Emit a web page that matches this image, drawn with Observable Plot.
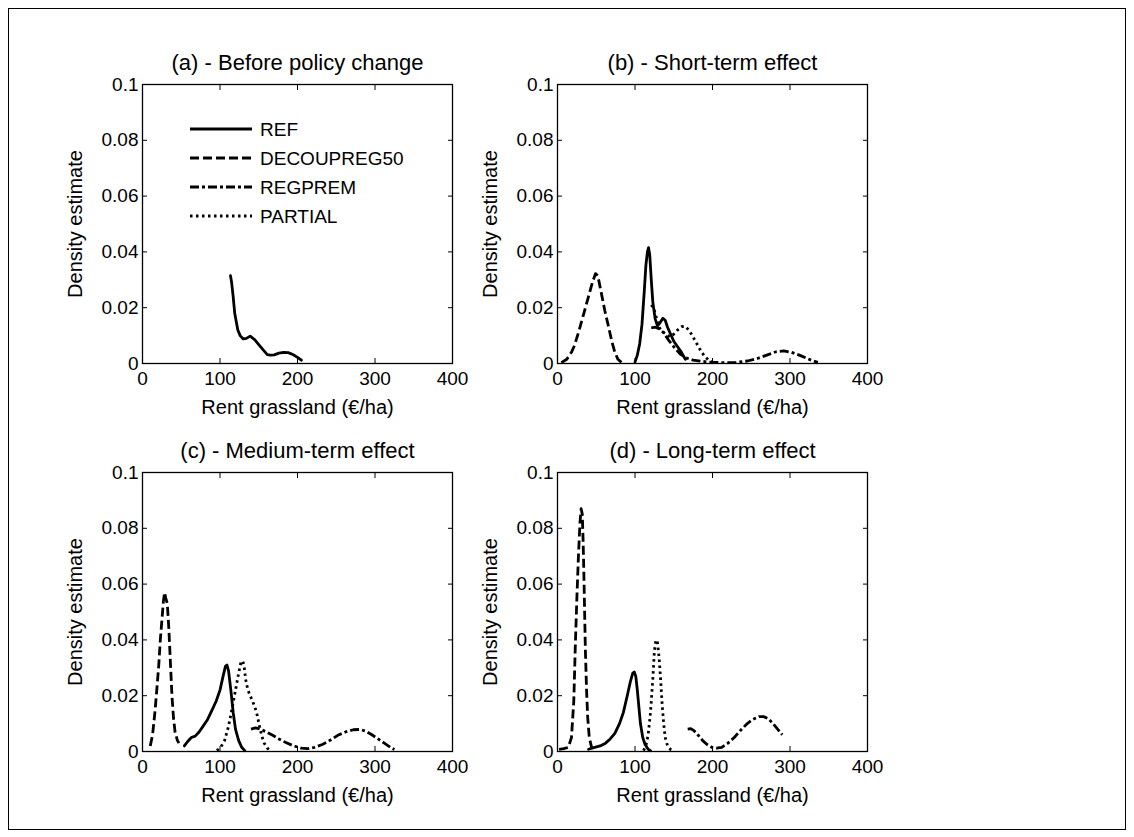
<!DOCTYPE html>
<html>
<head>
<meta charset="utf-8">
<script src="https://cdn.jsdelivr.net/npm/d3@7"></script>
<script src="https://cdn.jsdelivr.net/npm/@observablehq/plot@0.6"></script>
<style>
  html, body { margin: 0; padding: 0; background: #fff; }
  #fig { position: relative; width: 1134px; height: 837px; background: #fff; font-family: "Liberation Sans", Arial, sans-serif; }
  #border { position: absolute; left: 8px; top: 8px; width: 1116px; height: 820px; border: 1px solid #000; }
  .panel { position: absolute; }
  #legend { position: absolute; }
</style>
</head>
<body>
<div id="fig"><div id="border"></div></div>
<script>
// ---------- labels & ticks ----------
const seriesNames = ["REF", "DECOUPREG50", "REGPREM", "PARTIAL"];
const panelTitles = ["(a) - Before policy change", "(b) - Short-term effect", "(c) - Medium-term effect", "(d) - Long-term effect"];
const xLabel = "Rent grassland (€/ha)";
const yLabel = "Density estimate";
const xTicks = [0, 100, 200, 300, 400];
const yTicks = [0, 0.02, 0.04, 0.06, 0.08, 0.1];

// ---------- (a) before policy change ----------
const aREF = [[113.5,0.0315],[115,0.029],[117,0.024],[119,0.018],[121,0.015],[123,0.012],[126,0.0100],[130,0.0088],[134,0.0090],[139,0.0098],[145,0.0085],[150,0.0068],[156,0.0048],[161,0.0032],[165,0.0030],[170,0.0031],[176,0.0037],[182,0.0040],[188,0.0039],[194,0.0032],[200,0.0022],[205,0.0012]];

// ---------- (b) short-term ----------
const bREF = [[100,0.0005],[103,0.003],[106,0.007],[109,0.014],[112,0.026],[114,0.035],[116,0.040],[117.5,0.0415],[119,0.039],[121,0.030],[123,0.022],[126,0.016],[129,0.0135],[132,0.0145],[136,0.0162],[139,0.0155],[142,0.013],[146,0.0105],[150,0.008],[155,0.006],[160,0.004],[165,0.0015]];
const bDECOUP = [[5,0.0003],[12,0.0015],[18,0.004],[22,0.0065],[28,0.012],[34,0.018],[40,0.024],[45,0.029],[49,0.0322],[52,0.0315],[56,0.026],[61,0.019],[66,0.013],[70,0.008],[74,0.004],[78,0.0015],[83,0.0003]];
const bREGPREM = [[121,0.0128],[126,0.013],[131,0.0125],[137,0.011],[143,0.0085],[150,0.006],[158,0.0035],[166,0.002],[175,0.0012],[185,0.0008],[200,0.0004],[215,0.0003],[230,0.0004],[245,0.0009],[258,0.0018],[270,0.003],[282,0.0042],[292,0.0045],[302,0.004],[312,0.003],[322,0.0018],[330,0.0009],[336,0.0004]];
const bPARTIAL = [[121,0.021],[124,0.020],[127,0.017],[131,0.013],[135,0.0115],[140,0.0105],[145,0.0095],[150,0.0105],[155,0.012],[160,0.0132],[165,0.0133],[170,0.0118],[175,0.0095],[180,0.007],[185,0.0045],[190,0.0025],[196,0.001],[202,0.0003]];

// ---------- (c) medium-term ----------
const cREF = [[54,0.002],[58,0.0035],[63,0.005],[68,0.0055],[73,0.007],[78,0.009],[84,0.0115],[90,0.015],[95,0.018],[100,0.022],[104,0.027],[107,0.0305],[109,0.031],[111,0.029],[114,0.022],[117,0.014],[120,0.008],[124,0.004],[128,0.0015],[132,0.0003]];
const cDECOUP = [[10,0.002],[13,0.006],[16,0.014],[19,0.024],[21,0.031],[23,0.040],[25,0.047],[27,0.054],[28.5,0.057],[30,0.055],[32,0.053],[34,0.044],[36,0.032],[38,0.020],[40,0.012],[42,0.007],[45,0.004],[47,0.003]];
const cREGPREM = [[140,0.008],[146,0.0085],[152,0.008],[160,0.007],[168,0.0058],[176,0.0045],[185,0.0032],[195,0.002],[205,0.0012],[213,0.001],[222,0.0015],[232,0.0025],[242,0.004],[252,0.0058],[262,0.007],[272,0.0078],[280,0.0079],[288,0.0073],[296,0.006],[304,0.0045],[312,0.003],[320,0.0015],[325,0.0007]];
const cPARTIAL = [[96,0.0003],[101,0.0015],[106,0.004],[111,0.009],[116,0.016],[120,0.022],[124,0.028],[127,0.032],[129,0.0325],[131,0.031],[133,0.026],[136,0.022],[139,0.020],[142,0.018],[145,0.016],[148,0.013],[151,0.009],[154,0.0055],[157,0.003],[161,0.0012],[165,0.0003]];

// ---------- (d) long-term ----------
const dREF = [[40,0.0008],[48,0.0015],[55,0.002],[62,0.003],[68,0.0045],[74,0.0065],[80,0.010],[85,0.014],[90,0.020],[94,0.025],[97,0.028],[99,0.0285],[101,0.027],[103,0.022],[105,0.016],[107,0.010],[110,0.005],[113,0.0025],[117,0.0008],[120,0.0003]];
const dDECOUP = [[2,0.0008],[8,0.001],[14,0.0015],[18,0.005],[21,0.018],[23,0.038],[25,0.055],[27,0.070],[29,0.082],[30.5,0.087],[32,0.085],[33,0.076],[34,0.064],[35,0.050],[36,0.036],[37.5,0.022],[39,0.012],[41,0.005],[44,0.0015]];
const dREGPREM = [[168,0.008],[172,0.0082],[176,0.0075],[181,0.006],[187,0.004],[193,0.0025],[199,0.0015],[205,0.0012],[212,0.0015],[220,0.003],[228,0.005],[236,0.0075],[244,0.0098],[252,0.0115],[260,0.0125],[266,0.0125],[272,0.0118],[278,0.010],[284,0.008],[290,0.006]];
const dPARTIAL = [[111,0.0003],[114,0.002],[117,0.006],[120,0.014],[123,0.026],[125,0.036],[127,0.040],[129,0.039],[131,0.034],[133,0.026],[135,0.017],[137,0.010],[139,0.005],[142,0.002],[146,0.0007],[150,0.0002]];

// ---------- styles ----------
const dashes = { REF: null, DECOUPREG50: "9,4", REGPREM: "9,3,3,3", PARTIAL: "2.5,3.5" };
const FONT = "'Liberation Sans', Arial, Helvetica, sans-serif";

const panels = [
  { title: panelTitles[0], series: { REF: aREF }, left: 62, top: 34 },
  { title: panelTitles[1], series: { REF: bREF, DECOUPREG50: bDECOUP, REGPREM: bREGPREM, PARTIAL: bPARTIAL }, left: 477, top: 34 },
  { title: panelTitles[2], series: { REF: cREF, DECOUPREG50: cDECOUP, REGPREM: cREGPREM, PARTIAL: cPARTIAL }, left: 62, top: 422 },
  { title: panelTitles[3], series: { REF: dREF, DECOUPREG50: dDECOUP, REGPREM: dREGPREM, PARTIAL: dPARTIAL }, left: 477, top: 422 }
];

const fig = document.getElementById("fig");
const yFmt = d => String(d);

for (const p of panels) {
  const lineMarks = seriesNames.filter(n => p.series[n]).map(n =>
    Plot.line(p.series[n], {
      x: d => d[0], y: d => d[1],
      stroke: "black", strokeWidth: 2.8,
      strokeDasharray: dashes[n] ?? undefined,
      strokeLinejoin: "round", strokeLinecap: n === "REF" ? "round" : "butt",
      curve: "linear"
    })
  );
  const chart = Plot.plot({
    width: 400, height: 389,
    marginLeft: 80, marginRight: 10, marginTop: 50, marginBottom: 60,
    style: { fontFamily: FONT, fontSize: "19px", color: "black", background: "transparent", overflow: "visible" },
    x: { domain: [0, 400] },
    y: { domain: [0, 0.1] },
    marks: [
      ...lineMarks,
      Plot.frame({ stroke: "black", strokeWidth: 1.3 }),
      Plot.axisX(xTicks, { anchor: "bottom", tickSize: -5, tickPadding: 13, label: null, fontSize: 19, stroke: "black" }),
      Plot.axisX(xTicks, { anchor: "top", tickSize: -5, tickFormat: () => "", label: null, stroke: "black" }),
      Plot.axisY(yTicks, { anchor: "left", tickSize: -5, tickPadding: 9, tickFormat: yFmt, label: null, fontSize: 19, stroke: "black" }),
      Plot.axisY(yTicks, { anchor: "right", tickSize: -5, tickFormat: () => "", label: null, stroke: "black" }),
      Plot.text([p.title], { text: d => d, frameAnchor: "top", lineAnchor: "middle", dy: -22, fontSize: 22, fill: "black" }),
      Plot.text([xLabel], { text: d => d, frameAnchor: "bottom", lineAnchor: "middle", dy: 44, fontSize: 20, fill: "black" }),
      Plot.text([yLabel], { text: d => d, frameAnchor: "left", textAnchor: "middle", lineAnchor: "middle", dx: -67, rotate: -90, fontSize: 20, fill: "black" })
    ]
  });
  chart.classList.add("panel");
  chart.style.left = p.left + "px";
  chart.style.top = p.top + "px";
  fig.appendChild(chart);
}

// ---------- legend (inside panel a) ----------
const ns = "http://www.w3.org/2000/svg";
const leg = document.createElementNS(ns, "svg");
leg.setAttribute("id", "legend");
leg.setAttribute("width", 250);
leg.setAttribute("height", 120);
leg.style.left = "185px";
leg.style.top = "112px";
seriesNames.forEach((name, i) => {
  const cy = 17 + i * 29;
  const ln = document.createElementNS(ns, "line");
  ln.setAttribute("x1", 5); ln.setAttribute("x2", 67);
  ln.setAttribute("y1", cy); ln.setAttribute("y2", cy);
  ln.setAttribute("stroke", "black"); ln.setAttribute("stroke-width", 2.8);
  if (dashes[name]) ln.setAttribute("stroke-dasharray", dashes[name]);
  leg.appendChild(ln);
  const tx = document.createElementNS(ns, "text");
  tx.setAttribute("x", 75); tx.setAttribute("y", cy);
  tx.setAttribute("dominant-baseline", "central");
  tx.setAttribute("font-family", FONT);
  tx.setAttribute("font-size", 19);
  tx.textContent = name;
  leg.appendChild(tx);
});
fig.appendChild(leg);
</script>
</body>
</html>
